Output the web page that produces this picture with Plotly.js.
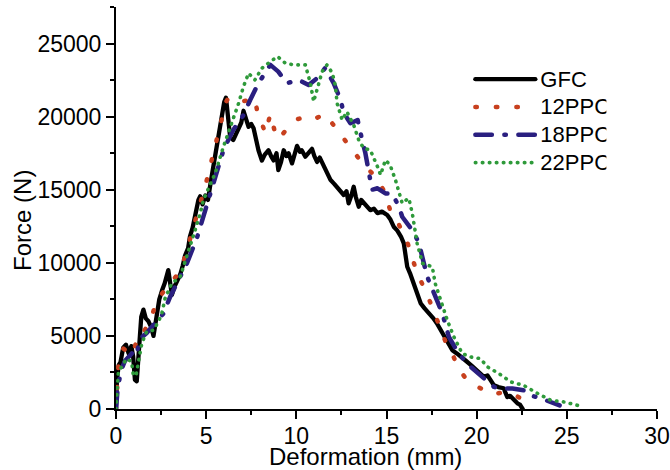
<!DOCTYPE html>
<html>
<head>
<meta charset="utf-8">
<script src="https://cdn.plot.ly/plotly-3.0.1.min.js"></script>
<style>html,body{margin:0;padding:0;background:#fff;}</style>
</head>
<body>
<div id="chart" style="width:670px;height:470px;"></div>
<script>
// Series names
const seriesNames = ["GFC", "12PPC", "18PPC", "22PPC"];

// GFC
const gfcX = [0,0.05,0.15,0.25,0.4,0.55,0.7,0.85,0.95,1.05,1.15,1.25,1.4,1.52,1.65,1.8,1.95,2.08,2.25,2.4,2.55,2.7,2.9,3.0,3.1,3.25,3.4,3.56,3.7,3.83,4.0,4.1,4.25,4.4,4.57,4.67,4.8,4.95,5.1,5.25,5.45,5.65,5.85,6.0,6.1,6.2,6.33,6.5,6.8,6.95,7.07,7.2,7.35,7.5,7.63,7.9,8.09,8.25,8.46,8.6,8.74,8.9,9.0,9.15,9.3,9.45,9.57,9.76,9.9,10.04,10.2,10.3,10.5,10.7,10.87,11.0,11.15,11.3,11.5,11.7,11.9,12.1,12.26,12.45,12.63,12.78,12.9,13.05,13.18,13.3,13.46,13.6,13.74,13.9,14.1,14.3,14.5,14.75,15.04,15.2,15.4,15.6,15.8,15.96,16.05,16.15,16.3,16.5,16.7,16.9,17.1,17.4,17.6,17.8,18.0,18.2,18.45,18.65,18.9,19.1,19.4,19.7,19.95,20.2,20.4,20.6,20.8,20.96,21.2,21.5,21.6,21.7,21.85,21.98,22.1,22.26,22.4,22.5,22.55];
const gfcY = [0,2000,3000,3200,4200,4400,3800,4300,3600,2000,1900,4000,6300,6800,6200,6000,5600,5000,6200,7500,8100,8600,9500,8600,7800,8400,8800,9200,9800,10500,11000,11800,12400,13500,14300,14550,14000,14600,14300,15500,17000,18200,19800,21000,21300,20000,18600,18400,19100,19600,20400,19800,19300,19500,19200,17700,17000,17400,17700,17300,17000,17500,16350,16900,17700,17300,17500,16800,17500,18000,17600,17700,17260,17500,17800,17300,16900,17200,16700,16200,15660,15400,15200,14900,14640,14900,14070,14600,15200,14500,13840,14300,14090,13800,13600,13700,13400,13500,13270,13000,12470,12200,11800,11330,10500,9730,9300,8590,7900,7220,6900,6530,6200,5850,5400,4930,4400,4020,3800,3560,3300,2990,2700,2420,2200,2300,1900,1620,1500,1420,1100,820,900,730,600,390,300,100,0];

// 12PPC
const ppc12X = [0,0.05,0.13,0.25,0.4,0.55,0.68,0.85,0.96,1.1,1.24,1.4,1.52,1.75,1.98,2.26,2.5,2.9,3.2,3.46,3.8,4.1,4.4,4.67,5.0,5.3,5.6,5.9,6.1,6.24,6.5,6.9,7.3,7.7,7.9,8.1,8.28,8.56,8.83,9.0,9.4,9.7,10.04,10.3,10.6,10.96,11.3,11.6,12.1,12.63,13.1,13.74,14.4,14.94,15.2,15.7,16.15,16.4,16.7,17.2,17.6,17.9,18.28,18.56,19.0,19.4,19.9,20.4,20.9,21.3,21.7,22.2,22.6,22.8];
const ppc12Y = [0,1500,2880,3300,4140,4000,3680,3800,3900,4500,5160,5200,5270,5700,6300,7450,7800,8470,8900,9270,10300,11550,12800,14080,15500,17000,18600,20200,21000,21300,21200,21030,21100,21260,19890,19500,18860,20180,18860,18450,19040,19400,19820,19900,20000,19820,20000,20180,19360,18520,17720,16690,15890,14750,13600,12580,11440,10530,9270,8010,6760,5730,4590,4020,2770,2080,1620,1300,1000,1100,1160,900,600,200];

// 18PPC
const ppc18X = [0,0.1,0.3,0.5,0.8,1.05,1.15,1.33,1.7,2.07,2.63,3.0,3.46,3.93,4.48,4.85,5.13,5.5,5.96,6.5,7.07,7.44,7.9,8.56,9.0,9.48,10.13,10.68,11.15,11.6,12.07,12.44,12.63,13.0,13.4,13.65,13.83,14.2,14.5,14.94,15.3,15.7,15.87,16.5,16.8,17.26,17.7,18.1,18.46,19.0,19.67,20.2,20.96,21.33,21.98,22.6,22.9,23.4,23.8,24.4,24.6];
const ppc18Y = [0,1500,2700,3300,3700,4020,3800,4800,5200,5730,6530,7670,8810,9960,11670,13150,14300,16000,17720,19090,20110,21140,22290,23540,23080,22290,22510,22170,22630,23330,22290,21200,20250,19550,19770,18400,17490,15000,15100,14750,14750,13840,13150,12120,11330,9040,7790,6530,4930,3790,2880,2300,1510,1400,1400,1280,940,800,640,370,250];

// 22PPC
const ppc22X = [0,0.05,0.13,0.31,0.59,0.87,0.96,1.11,1.24,1.43,1.7,2.07,2.35,2.54,2.72,3.09,3.56,3.93,4.39,4.67,4.85,5.2,5.5,5.96,6.43,6.8,7.07,7.35,7.7,8.09,8.56,8.96,9.39,9.85,10.5,10.78,10.96,11.24,11.43,11.7,12.0,12.17,12.26,12.54,12.8,13.18,13.46,13.74,14.1,14.5,14.67,14.94,15.2,15.5,15.7,15.87,16.1,16.24,16.43,16.7,17.0,17.54,17.7,18.0,18.37,18.74,19.2,19.67,20.2,20.6,21.24,21.9,22.6,23.4,24.1,24.85,25.6];
const ppc22Y = [0,1000,2530,2880,3450,3220,2300,2300,3340,4480,5300,5390,5960,6530,7560,8590,9040,10410,12240,13380,14300,15300,16120,17950,19550,20920,22060,22970,22510,23310,23770,24110,23660,23540,23540,22290,21030,22170,23080,23540,22970,22060,20920,19770,20340,19430,18400,17830,17720,16580,16010,17030,16690,15660,14750,14070,14300,14410,13380,11330,9960,9730,8590,7450,6080,4930,3790,3560,3450,2880,2420,1850,1620,1050,600,480,250];

// Axis labels
const xTickVals = [0,5,10,15,20,25,30];
const yTickVals = [0,5000,10000,15000,20000,25000];
const xTitle = "Deformation (mm)";
const yTitle = "Force (N)";

const FONT = "Arial, 'Liberation Sans', sans-serif";

const traces = [
  {x: gfcX, y: gfcY, name: seriesNames[0], mode: "lines",
   line: {color: "#000000", width: 4.3}},
  {x: ppc12X, y: ppc12Y, name: seriesNames[1], mode: "lines",
   line: {color: "#c8401e", width: 4.5, dash: "1.5px,19px"}},
  {x: ppc18X, y: ppc18Y, name: seriesNames[2], mode: "lines",
   line: {color: "#2a1f80", width: 4.5, dash: "16.5px,12.5px,1.5px,12.5px"}},
  {x: ppc22X, y: ppc22Y, name: seriesNames[3], mode: "lines",
   line: {color: "#2e9a3a", width: 3.6, dash: "0.5px,6.5px"}}
];

const axisCommon = {
  showline: true, linecolor: "#000", linewidth: 2,
  ticks: "outside", ticklen: 8, tickwidth: 2, tickcolor: "#000",
  showgrid: false, zeroline: false,
  tickfont: {family: FONT, size: 23, color: "#000"},
  mirror: false
};

const LEGEND_TEXT_SIZE = 22;
const XLABEL_TOP = 422.5; // target top of x tick label boxes (px)

const layout = {
  width: 670, height: 470,
  margin: {l: 116, r: 13, t: 7, b: 61},
  paper_bgcolor: "#fff", plot_bgcolor: "#fff",
  showlegend: true,
  legend: {
    x: 0.655, y: 0.8675, xanchor: "left", yanchor: "top",
    font: {family: FONT, size: 19.1, color: "#000"},
    bgcolor: "rgba(0,0,0,0)", borderwidth: 0,
    itemwidth: 60, tracegroupgap: 0
  },
  xaxis: Object.assign({}, axisCommon, {
    range: [0, 30], tickvals: xTickVals,
    minor: {dtick: 2.5, ticklen: 4, tickwidth: 2, tickcolor: "#000", ticks: "outside"}
  }),
  yaxis: Object.assign({}, axisCommon, {
    range: [0, 27500], tickvals: yTickVals, tickformat: "d",
    minor: {dtick: 2500, ticklen: 4, tickwidth: 2, tickcolor: "#000", ticks: "outside"}
  }),
  annotations: [
    {text: xTitle, xref: "paper", yref: "paper", x: 0.462, y: -0.119,
     xanchor: "center", yanchor: "middle", showarrow: false,
     font: {family: FONT, size: 24, color: "#000"}},
    {text: yTitle, xref: "paper", yref: "paper", x: -0.174, y: 0.47,
     xanchor: "center", yanchor: "middle", showarrow: false, textangle: -90,
     font: {family: FONT, size: 24, color: "#000"}}
  ]
};

Plotly.newPlot("chart", traces, layout, {staticPlot: true, displayModeBar: false}).then(function () {
  document.querySelectorAll(".scatterlayer path.js-line, .legend path.js-line").forEach(function (p) {
    p.style.strokeLinecap = "round";
    p.style.strokeLinejoin = "round";
  });
  document.querySelectorAll(".legend text.legendtext").forEach(function (t) {
    t.style.fontSize = LEGEND_TEXT_SIZE + "px";
  });
  const svgTop = document.querySelector("#chart svg.main-svg").getBoundingClientRect().top;
  document.querySelectorAll(".xaxislayer-above .xtick text").forEach(function (t) {
    const r = t.getBoundingClientRect();
    const shift = XLABEL_TOP - (r.top - svgTop);
    const y0 = parseFloat(t.getAttribute("y") || "0");
    t.setAttribute("y", String(y0 + shift));
  });
});
</script>
</body>
</html>
